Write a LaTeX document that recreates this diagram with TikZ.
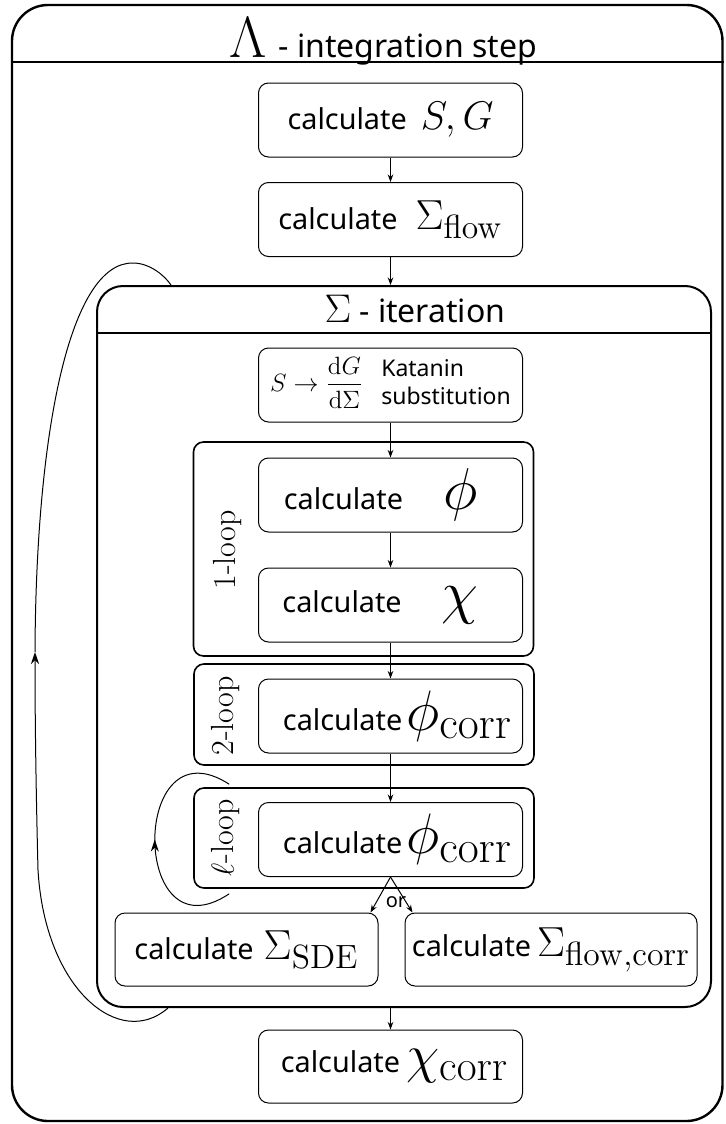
\RequirePackage{fix-cm}
\documentclass[tikz,border=0pt]{standalone}
\usepackage[no-math]{fontspec}
\newfontfamily\ns{Noto Sans}
\usetikzlibrary{arrows.meta,calc,decorations.markings}
\DeclareMathSizes{20}{20}{16}{12.8}
\DeclareMathSizes{21}{21}{16.8}{13.4}
\DeclareMathSizes{22}{22}{17.6}{14}
\DeclareMathSizes{27}{27}{21.6}{17.3}
\DeclareMathSizes{28.5}{28.5}{22.8}{18.2}
\newcommand\msz[1]{\fontsize{#1}{#1}\selectfont}
\newcommand\calcword{{\ns\fontsize{14.4}{17}\selectfont calculate}}
\begin{document}
\begin{tikzpicture}[x=0.5pt,y=0.5pt,
  box/.style={draw, line width=0.5pt, rounded corners=5pt, minimum width=132pt, minimum height=37pt, inner sep=0pt},
  grp/.style={draw, line width=0.8pt, rounded corners=5pt, minimum width=170pt, inner sep=0pt},
  frame/.style={draw, inner sep=0pt},
  arr/.style={line width=0.5pt, -{Stealth[length=3.8pt,width=2.8pt]}},
  thinline/.style={line width=0.5pt},
  lab/.style={rotate=90, font=\fontsize{16}{19}\selectfont, inner sep=0pt},
  midarrow/.style={postaction={decorate}, decoration={markings, mark=at position 0.5 with {\arrow{Stealth[length=6pt,width=4pt]}}}},
]
\useasboundingbox (0,0) rectangle (725,-1124);

% outer frame
\node[frame, line width=1.2pt, rounded corners=18pt, minimum width=355.25pt, minimum height=558pt] (outer) at (367.25,-563) {};
\draw[line width=1.2pt] (outer.west |- 0,-62) -- (outer.east |- 0,-62);
\node[anchor=base, inner sep=0pt] (title) at (383,-57) {{\msz{29}$\Lambda$}\hspace{6pt}{\ns\fontsize{16}{19}\selectfont - integration step}};

\node[box] (SG) at (390.5,-120) {\calcword\hspace{7pt}{\msz{20}$S,G$}};
\node[box] (Sf) at (390.5,-219.5) {\calcword\hspace{9pt}{\msz{21}$\Sigma_{\mathrm{flow}}$}};

% Sigma iteration frame
\node[frame, line width=1pt, rounded corners=13pt, minimum width=307pt, minimum height=360.5pt] (sig) at (404,-646.5) {};
\draw[line width=1pt] (sig.west |- 0,-333) -- (sig.east |- 0,-333);
\node[anchor=base, inner sep=0pt] (sigtitle) at (415,-322) {{\msz{20}$\Sigma$}\hspace{4pt}{\ns\fontsize{16}{19}\selectfont - iteration}};

\node[box] (kat) at (390.5,-385) {{\msz{12.5}$S\to\displaystyle\frac{\mathrm{d}G}{\mathrm{d}\Sigma}$}\hspace{9pt}{\ns\fontsize{11.5}{14}\selectfont\begin{tabular}{@{}l@{}}Katanin\\substitution\end{tabular}}};

% 1-loop
\node[grp, minimum height=107pt] (g1) at (363.5,-549) {};
\node[box] (phi) at (390.5,-495) {\calcword\hspace{20pt}{\msz{29.5}$\phi$}\hspace{10pt}\null};
\node[box] (chi) at (390.5,-605) {\calcword\hspace{20pt}{\msz{30}$\chi$}\hspace{10pt}\null};
\node[lab] (lab1) at (228,-550) {1-loop};

% 2-loop
\node[grp, minimum height=50.5pt] (g2) at (364,-714.5) {};
\node[box] (pc1) at (390.5,-716) {\calcword\hspace{2pt}{\msz{28.5}$\phi_{\mathrm{corr}}$}\hspace{-7pt}\null};
\node[lab] (lab2) at (226,-716) {2-loop};

% l-loop
\node[grp, minimum height=50pt] (g3) at (364,-838) {};
\node[box] (pc2) at (390.5,-839.5) {\calcword\hspace{2pt}{\msz{28.5}$\phi_{\mathrm{corr}}$}\hspace{-7pt}\null};
\node[lab] (lab3) at (226,-838) {$\ell$-loop};

\node[box, minimum width=131.5pt, minimum height=36.5pt] (sde) at (246.5,-949.5) {\calcword\hspace{5pt}{\msz{21}$\Sigma_{\mathrm{SDE}}$}};
\node[box, minimum width=146pt, minimum height=36.5pt] (sfc) at (551,-949.5) {\calcword\hspace{3pt}{\msz{21}$\Sigma_{\mathrm{flow,corr}}$}};
\node[inner sep=0pt] (or) at (396,-902) {\ns\fontsize{10}{12}\selectfont or};

\node[box, minimum height=36.5pt] (cc) at (390.5,-1066.5) {\calcword\hspace{3pt}{\msz{27}$\chi_{\mathrm{corr}}$}\hspace{-4pt}\null};

% connectors
\draw[arr] (SG) -- (Sf);
\draw[arr] (Sf.south) -- (Sf.south |- sig.north);
\draw[arr] (kat) -- (phi);
\draw[arr] (phi) -- (chi);
\draw[arr] (chi) -- (pc1);
\draw[arr] (pc1) -- (pc2);
\draw[arr] (pc2.south) -- ([xshift=-4pt]sde.north east);
\draw[arr] (pc2.south) -- ([xshift=4pt]sfc.north west);
\draw[arr] (cc.north |- sig.south) -- (cc.north);

% l-loop self loop
\coordinate (l3b) at ($(g3.south west)+(36,-5)$);
\coordinate (l3t) at ($(g3.north west)+(36,3)$);
\draw[thinline, midarrow] (l3b) .. controls (130,-960) and (130,-720) .. (l3t);

% big Sigma loop
\coordinate (bl1) at ($(sig.south west)+(72,0)$);
\coordinate (bl2) at ($(sig.north west)+(75,0)$);
\coordinate (blm) at (35,-652);
\draw[thinline, -{Stealth[length=6pt,width=4pt]}] (bl1) .. controls (120,-1050) and (45,-990) .. (38,-870) .. controls (36,-790) and (35,-720) .. (blm);
\draw[thinline] (blm) .. controls (36,-430) and (70,-262) .. (133,-263) .. controls (150,-263) and (165,-276) .. (bl2);
\end{tikzpicture}
\end{document}
